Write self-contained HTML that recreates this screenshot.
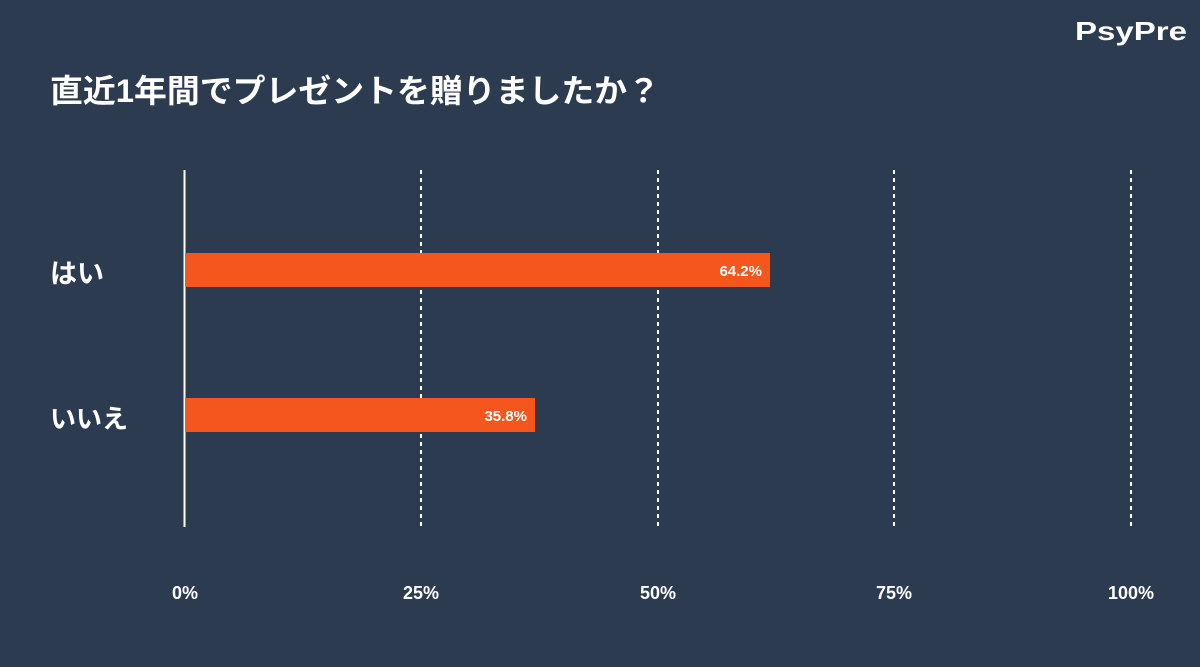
<!DOCTYPE html>
<html><head><meta charset="utf-8"><style>
body{margin:0;width:1200px;height:667px;background:#2c3b4f;overflow:hidden;font-family:"Liberation Sans","Noto Sans CJK JP",sans-serif;}
</style></head><body>
<svg width="1200" height="667" xmlns="http://www.w3.org/2000/svg" style="position:absolute;left:0;top:0">
<rect width="1200" height="667" fill="#2c3b4f"/>
<text x="1075" y="40" textLength="112" lengthAdjust="spacingAndGlyphs" font-family="Liberation Sans, sans-serif" font-weight="bold" font-size="26" fill="#fff">PsyPre</text>
<text x="50" y="102" textLength="610" lengthAdjust="spacingAndGlyphs" font-family="Liberation Sans, Noto Sans CJK JP, sans-serif" font-weight="bold" font-size="32" fill="#fff">直近1年間でプレゼントを贈りましたか？</text>
<g stroke="#fff" stroke-width="2" stroke-dasharray="4,4">
<line x1="421" y1="170" x2="421" y2="527"/>
<line x1="658" y1="170" x2="658" y2="527"/>
<line x1="894" y1="170" x2="894" y2="527"/>
<line x1="1131" y1="170" x2="1131" y2="527"/>
</g>
<line x1="184.5" y1="170" x2="184.5" y2="527" stroke="#fff" stroke-width="2"/>
<rect x="185" y="253" width="585" height="34" fill="#f5561e"/>
<rect x="185" y="398" width="350" height="34" fill="#f5561e"/>
<g font-family="Liberation Sans, Noto Sans CJK JP, sans-serif" font-weight="bold" fill="#fff">
<text x="762" y="276" text-anchor="end" font-size="15">64.2%</text>
<text x="527" y="421" text-anchor="end" font-size="15">35.8%</text>
<text x="50" y="283" font-size="27">はい</text>
<text x="50" y="428" font-size="26">いいえ</text>
<g font-size="18" text-anchor="middle">
<text x="185" y="599">0%</text>
<text x="421" y="599">25%</text>
<text x="658" y="599">50%</text>
<text x="894" y="599">75%</text>
<text x="1131" y="599">100%</text>
</g></g>
</svg>
</body></html>
